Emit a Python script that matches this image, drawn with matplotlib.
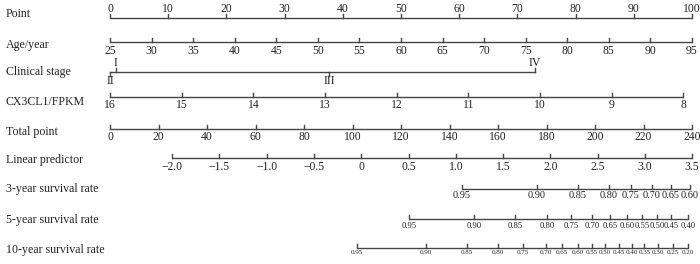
import matplotlib
matplotlib.use("Agg")
import matplotlib.pyplot as plt

# ---- data ----
point_ticks = [0, 10, 20, 30, 40, 50, 60, 70, 80, 90, 100]

age_ticks = [25, 30, 35, 40, 45, 50, 55, 60, 65, 70, 75, 80, 85, 90, 95]
age_pts = [(a - 25) / 70 * 100 for a in age_ticks]

stage_labels = ["I", "II", "III", "IV"]
stage_pts = [1.0, 0.0, 37.7, 73.0]
stage_up = [True, False, False, True]

cx3cl1_ticks = [16, 15, 14, 13, 12, 11, 10, 9, 8]
cx3cl1_pts = [(16 - v) / 8 * 98.5 for v in cx3cl1_ticks]

total_ticks = [0, 20, 40, 60, 80, 100, 120, 140, 160, 180, 200, 220, 240]

lp_labels = ["\u22122.0", "\u22121.5", "\u22121.0", "\u22120.5", "0", "0.5",
             "1.0", "1.5", "2.0", "2.5", "3.0", "3.5"]
lp_total = [25.6, 45.1, 64.6, 84.1, 103.6, 123.1, 142.6, 162.1, 181.6,
            201.1, 220.5, 240.0]

surv3_labels = ["0.95", "0.90", "0.85", "0.80", "0.75", "0.70", "0.65", "0.60"]
surv3_total = [145.0, 175.9, 193.0, 205.8, 214.8, 223.5, 231.3, 239.2]

surv5_labels = ["0.95", "0.90", "0.85", "0.80", "0.75", "0.70", "0.65", "0.60",
                "0.55", "0.50", "0.45", "0.40"]
surv5_total = [123.3, 150.1, 167.0, 180.2, 190.1, 198.8, 206.2, 213.2,
               219.4, 225.6, 231.3, 238.4]

surv10_labels = ["0.95", "0.90", "0.85", "0.80", "0.75", "0.70", "0.65", "0.60",
                 "0.55", "0.50", "0.45", "0.40", "0.35", "0.30", "0.25", "0.20"]
surv10_total = [101.7, 130.3, 147.2, 159.8, 170.3, 179.8, 186.4, 193.0,
                198.8, 204.1, 209.7, 215.1, 220.4, 226.0, 232.0, 238.4]

row_names = ["Point", "Age/year", "Clinical stage", "CX3CL1/FPKM", "Total point",
             "Linear predictor", "3-year survival rate", "5-year survival rate",
             "10-year survival rate"]

# ---- style ----
plt.rcParams["font.family"] = ["Liberation Serif", "DejaVu Serif"]
LINE = "#444444"
TXT = "#222222"
TICK = 4.0

fig = plt.figure(figsize=(7.0, 2.64), dpi=100)
ax = fig.add_axes([0, 0, 1, 1])
# x in "points" units (0..100), y in pixel rows from the top
ax.set_xlim(-110 / 5.82, (700 - 110) / 5.82)
ax.set_ylim(264, 0)
ax.axis("off")


def tot2pt(t):
    return t / 2.4


def scale(y, xs, labels, size, above=False, gap=2.5):
    ax.plot([min(xs), max(xs)], [y, y], color=LINE, lw=1.0,
            solid_capstyle="butt")
    for x, lab in zip(xs, labels):
        ax.plot([x, x], [y, y - TICK], color=LINE, lw=1.0)
        if above:
            ax.text(x, y - 3, lab, ha="center", va="bottom",
                    fontsize=size, color=TXT)
        else:
            ax.text(x, y + gap, lab, ha="center", va="top", fontsize=size,
                    color=TXT)


row_y = [18, 42, 72, 97, 129, 158, 189, 219, 248]
label_y = [14, 45, 72, 102, 132, 160, 189, 220, 250]

for name, ly in zip(row_names, label_y):
    ax.text(-110 / 5.82 + 6 / 5.82, ly, name, ha="left", va="center",
            fontsize=8.6, color=TXT)

scale(row_y[0], point_ticks, [str(v) for v in point_ticks], 8.4, above=True)
scale(row_y[1], age_pts, [str(v) for v in age_ticks], 8.4)

# clinical stage: ticks up/down with labels on the same side
ys = row_y[2]
ax.plot([min(stage_pts), max(stage_pts)], [ys, ys], color=LINE, lw=1.0)
for x, lab, up in zip(stage_pts, stage_labels, stage_up):
    if up:
        ax.plot([x, x], [ys, ys - TICK], color=LINE, lw=1.0)
        ax.text(x, ys - 2.5, lab, ha="center", va="bottom", fontsize=8.6,
                color=TXT)
    else:
        ax.plot([x, x], [ys, ys + TICK], color=LINE, lw=1.0)
        ax.text(x, ys + 3, lab, ha="center", va="top", fontsize=8.6,
                color=TXT)

scale(row_y[3], cx3cl1_pts, [str(v) for v in cx3cl1_ticks], 8.4)
scale(row_y[4], [tot2pt(t) for t in total_ticks],
      [str(v) for v in total_ticks], 8.4)
scale(row_y[5], [tot2pt(t) for t in lp_total], lp_labels, 8.4)
scale(row_y[6], [tot2pt(t) for t in surv3_total], surv3_labels, 7.4)
scale(row_y[7], [tot2pt(t) for t in surv5_total], surv5_labels, 6.2)
scale(row_y[8], [tot2pt(t) for t in surv10_total], surv10_labels, 5.0)

fig.savefig("out.png", dpi=100, facecolor="white")
